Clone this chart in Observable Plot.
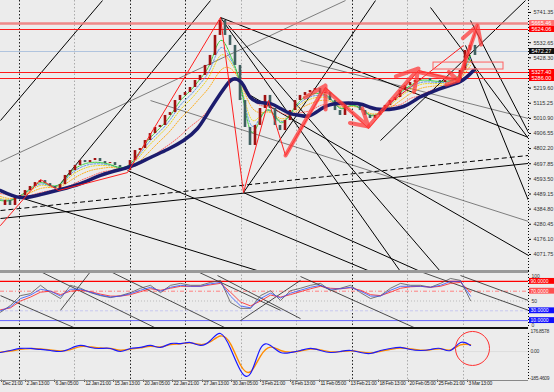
<!DOCTYPE html>
<html><head><meta charset="utf-8">
<script src="https://cdn.jsdelivr.net/npm/d3@7"></script>
<script src="https://cdn.jsdelivr.net/npm/@observablehq/plot@0.6"></script>
<style>
body{margin:0;background:#ececec;}
#c{position:relative;width:554px;height:392px;background:#ececec;overflow:hidden;font-family:"Liberation Sans",Arial,sans-serif;}
#c svg{position:absolute;left:0;}
.sep{position:absolute;left:0;width:528px;}
</style></head><body><div id="c"></div>
<script>
// ---------- data ----------
const priceTicks=[5741.35,5637.00,5532.65,5428.30,5323.95,5219.60,5115.25,5010.90,4906.55,4802.20,4697.85,4593.50,4489.15,4384.80,4280.45,4176.10,4071.75];
const timeLabels=["Dec 21:00","2 Jan 13:00","6 Jan 05:00","12 Jan 21:00","15 Jan 13:00","20 Jan 05:00","22 Jan 21:00","27 Jan 13:00","30 Jan 05:00","3 Feb 21:00","6 Feb 13:00","11 Feb 05:00","13 Feb 21:00","18 Feb 13:00","20 Feb 05:00","25 Feb 21:00","3 Mar 13:00"];
const timeLabelPos=[1,25,54,84,113,143,172,202,231,260,290,319,349,378,408,437,467];
const sepBlack=[19,130,185,352];
const sepGrey=[74,241,296,407,463];
// closes, one every 5 slots
const closes=[4410,4444,4410,4465,4479,4513,4541,4568,4582,4561,
 4541,4527,4554,4617,4651,4686,4720,4706,4720,4734,
 4713,4699,4706,4686,4672,4651,4720,4789,4803,4858,
 4906,4948,4962,5031,5051,5134,5169,5189,5224,5272,
 5307,5376,5445,5583,5686,5583,5514,5376,5134,4948,
 4824,4962,5079,5169,5079,4962,4927,4996,5065,5134,
 5169,5189,5203,5217,5182,5189,5134,5065,5031,5100,
 5120,5106,5065,5031,5010,5031,5065,5100,5134,5155,
 5203,5238,5258,5272,5286,5286,5272,5272,5258,5272,
 5272,5286,5341,5479,5514,5445];
// slow MA (navy)
const navyT=[0,20,40,60,80,100,120,133,150,167,183,197,207,220,230,237,243,250,260,270,280,290,300,310,323,337,357,370,383,403,417,430,443,460,473];
const navyP=[4513,4465,4485,4520,4561,4617,4658,4686,4741,4796,4858,4941,5044,5182,5272,5279,5238,5155,5120,5113,5079,5044,5031,5031,5086,5113,5113,5086,5072,5093,5148,5189,5224,5265,5341];
// ribbon MAs, one every 10 slots
const maGreen=[4444,4444,4479,4527,4568,4548,4561,4637,4686,4706,4706,4692,4672,4699,4789,4879,4948,5031,5134,5203,5286,5396,5548,5445,5238,4927,5010,5065,4982,5044,5134,5175,5182,5148,5079,5100,5079,5031,5051,5120,5189,5238,5272,5272,5265,5272,5320,5445];
const maBlue=[4450,4448,4477,4520,4558,4545,4556,4625,4672,4694,4697,4687,4670,4692,4772,4858,4925,5005,5103,5172,5253,5356,5497,5422,5243,4970,5020,5061,4989,5041,5120,5160,5170,5143,5082,5098,5079,5035,5051,5111,5176,5224,5258,5262,5258,5267,5311,5428];
const maYellow=[4458,4451,4475,4513,4548,4541,4551,4610,4655,4679,4686,4682,4668,4686,4755,4834,4903,4979,5072,5141,5220,5317,5445,5400,5248,5014,5031,5058,4996,5038,5106,5144,5158,5138,5086,5096,5079,5038,5051,5103,5162,5210,5244,5251,5251,5262,5303,5410];
const maOrange=[4472,4458,4472,4499,4527,4534,4541,4582,4623,4651,4665,4672,4665,4672,4720,4789,4858,4927,5010,5079,5155,5238,5341,5355,5258,5100,5051,5051,5010,5031,5079,5113,5134,5127,5093,5093,5079,5044,5051,5086,5134,5182,5217,5231,5238,5251,5286,5376];
const maRed=[4492,4479,4465,4479,4499,4513,4527,4548,4582,4610,4637,4651,4658,4672,4699,4741,4789,4837,4892,4955,5010,5086,5169,5258,5272,5169,5100,5093,5051,5037,5051,5065,5100,5106,5106,5106,5100,5079,5065,5093,5106,5148,5169,5203,5217,5238,5258,5327];
// zigzag
const zigT=[0,40,58,127,220,243,268,285,325,368,418,458,477];
const zigP=[4272,4589,4513,4637,5707,4499,5134,4755,5224,4941,5341,5272,5651];
// thick arrows (start/end)
const arrows=[[285,4755,325,5238],[325,5210,368,4955],[368,4955,418,5355],[420,5327,458,5272],[458,5272,477,5651]];
const redThin=[[380,5065,463,5514]];
const redBox=[433,5396,503,5348];
// horizontal levels
const redLevels=[5665.46,5624.06,5327.40,5286.00];
const lastPrice=5472.27;
// trend lines [t1,p1,t2,p2]
const trendSolid=[[0,4996,102,5824],[60,4561,210,5824],[220,5707,528,4879],[220,5707,400,3954],[243,4499,375,5824],[0,4320,528,4700],
  [470,5686,528,4913],[430,5776,528,4872],[380,4858,525,5824],[0,4506,260,3954],[127,4651,370,3954],[243,4499,420,3954],
  [228,5652,440,3954],[250,5169,528,4065],[465,5514,528,4444]];
const trendThin=[[300,5410,528,5010],[0,4713,345,5824],[150,5134,528,4300]];
const trendDashed=[[0,4375,528,4755]];
const oscLines=[[197,110,280,31],[217,102,300,14],[0,61,80,-10],[40,110,160,-10],[110,110,230,-10],[60,31,90,110],[240,10,300,92],[300,100,420,-10],[420,110,528,31],[460,102,528,51]];
// oscillator panel (every 10 slots)
const oscGrey=[27,41,61,65,82,67,55,82,76,67,61,57,61,67,76,82,67,82,86,82,82,88,92,47,35,35,61,71,51,71,76,82,86,71,76,82,67,55,61,76,86,82,82,78,86,96,92,51];
const oscBlue=[30,38,55,62,74,70,60,74,74,68,62,58,60,65,72,78,70,78,82,80,80,85,88,60,40,36,55,66,56,66,72,78,82,74,75,78,70,60,60,72,80,80,80,78,82,90,90,60];
const oscRed=[32,36,50,58,68,70,63,70,72,69,64,60,60,63,69,75,72,76,80,80,80,83,86,68,48,40,50,62,58,63,69,75,80,76,75,77,72,63,61,68,76,79,80,78,80,86,88,68];
const oscLevels=[90,70,50,30,10];
// MACD (every 10 slots) and histogram (every 5 slots)
const macdMain=[-8,10,28,28,19,10,1,28,55,37,28,28,1,28,37,55,37,72,72,81,55,99,162,28,-169,-196,28,55,-8,-8,10,28,10,-8,1,10,-8,-17,10,28,37,19,10,19,28,10,81,55];
const macdSignal=[-5,5,20,27,24,15,6,18,45,42,32,28,12,22,33,48,42,62,70,78,63,88,140,70,-120,-180,-40,40,10,-5,5,22,15,-3,0,8,-3,-12,3,20,32,24,13,17,25,15,60,62];
const macdHist=[10,15,12,8,5,10,15,10,5,-5,-10,-15,-10,5,15,20,15,8,-5,-10,-8,-5,5,10,8,-5,-10,5,10,8,12,10,-5,-8,10,15,12,8,10,12,-10,8,20,30,25,-30,-60,-100,-125,-110,60,110,125,100,70,30,-20,-30,-25,-15,5,10,15,8,-5,-10,-8,5,8,10,-5,-10,-8,-12,-10,5,10,15,12,8,5,8,-5,-8,5,10,8,-5,-8,5,8,15,30,45,20,-10];
const macdLabels=["176.8578","0.00","-185.4609"];

// ---------- helpers ----------
const c=document.getElementById("c");
const X={domain:[0,528],range:[0,528]};
const FONT='"Liberation Sans",Arial,sans-serif';
function mk(top,h,y,marks,extra={}){
  const s=Plot.plot({width:554,height:h,marginLeft:0,marginRight:26,marginTop:0,marginBottom:0,
    x:{...X,axis:null},y:{...y,axis:null},marks,
    style:{background:"transparent",overflow:"visible",fontFamily:FONT,fontSize:"5px",...extra}});
  s.style.top=top+"px";c.appendChild(s);return s;
}
const every=(arr,step)=>arr.map((v,i)=>({t:i*step,v}));
const candles=closes.slice(1).map((v,i)=>({t:(i+1)*5,o:closes[i],c:v}));
const navy=navyT.map((t,i)=>({t,v:navyP[i]}));
const zig=zigT.map((t,i)=>({t,v:zigP[i]}));
const seg=a=>a.map(d=>({x1:d[0],y1:d[1],x2:d[2],y2:d[3]}));
const sepLines=[...sepBlack.map(t=>({t,k:"b"})),...sepGrey.map(t=>({t,k:"g"}))];
const sepStroke=d=>d.k==="b"?"#222":"#aaa";

// ---------- main price panel ----------
const yMain={domain:[3954.46,5824.14],range:[271,0]};
const pxU=6.8992; // price units per pixel in the main panel
const boxH=3*pxU;
const boxed=[...redLevels,lastPrice];
const shownTicks=priceTicks.filter(t=>boxed.every(b=>Math.abs(b-t)>5*pxU));
const ma=(arr,stroke,dash)=>Plot.line(every(arr,10),{x:"t",y:"v",stroke,strokeWidth:0.9,strokeDasharray:dash,curve:"natural"});
mk(0,271,yMain,[
  Plot.ruleX(sepLines,{x:"t",stroke:sepStroke,strokeDasharray:"1.5,2",strokeWidth:1}),
  Plot.ruleY([lastPrice],{stroke:"#b0c4de",strokeWidth:1}),
  Plot.link(seg(trendThin),{x1:"x1",y1:"y1",x2:"x2",y2:"y2",stroke:"#333",strokeWidth:0.6,clip:true}),
  Plot.link(seg(trendSolid),{x1:"x1",y1:"y1",x2:"x2",y2:"y2",stroke:"#000",strokeWidth:1,clip:true}),
  Plot.link(seg(trendDashed),{x1:"x1",y1:"y1",x2:"x2",y2:"y2",stroke:"#000",strokeWidth:1,strokeDasharray:"5,3",clip:true}),
  Plot.ruleY([redLevels[0]],{stroke:"#f07070",strokeWidth:2.5,strokeOpacity:0.8}),
  Plot.ruleY(redLevels.slice(1),{stroke:"#ff1a1a",strokeWidth:1.2}),
  ma(maRed,"#ff5050","1,1.5"),
  ma(maOrange,"#ffa500","1,1.5"),
  ma(maYellow,"#e8d000","1,1.5"),
  ma(maBlue,"#4a90e2","2,1.5"),
  ma(maGreen,"#22cc22","2,1"),
  Plot.rect(candles,{x1:d=>d.t-1.3,x2:d=>d.t+1.3,y1:"o",y2:"c",fill:d=>d.c>=d.o?"#a01010":"#3f5f5f"}),
  Plot.line(navy,{x:"t",y:"v",stroke:"#1c1c6e",strokeWidth:3.5,curve:"natural"}),
  Plot.line(zig,{x:"t",y:"v",stroke:"#ff2020",strokeWidth:1,clip:true}),
  Plot.link(seg(redThin),{x1:"x1",y1:"y1",x2:"x2",y2:"y2",stroke:"#ff2020",strokeWidth:1}),
  Plot.rect([redBox],{x1:d=>d[0],y1:d=>d[1],x2:d=>d[2],y2:d=>d[3],fill:"none",stroke:"#ff6060",strokeWidth:1}),
  Plot.arrow(seg(arrows),{x1:"x1",y1:"y1",x2:"x2",y2:"y2",stroke:"#ff3b3b",strokeOpacity:0.75,strokeWidth:4,headLength:9}),
  Plot.ruleX([528],{stroke:"#000",strokeDasharray:"1,2"}),
  Plot.axisY({anchor:"right",ticks:shownTicks,tickFormat:d=>d.toFixed(2),tickSize:2,tickPadding:3,fontSize:5.5,fill:"#333"}),
  Plot.rect(redLevels,{x1:529,x2:554,y1:d=>d-boxH,y2:d=>d+boxH,fill:(d,i)=>i===0?"#ff7070":"#ff0000"}),
  Plot.text(redLevels,{x:531,y:d=>d,text:d=>d.toFixed(2),fill:"white",textAnchor:"start",fontSize:5.5}),
  Plot.rect([lastPrice],{x1:529,x2:554,y1:d=>d-boxH,y2:d=>d+boxH,fill:"#111"}),
  Plot.text([lastPrice],{x:531,y:d=>d,text:d=>d.toFixed(2),fill:"white",textAnchor:"start",fontSize:5.5})
]);

// ---------- oscillator panel ----------
const yOsc={domain:[0,100],range:[54,5]};
mk(271,57,yOsc,[
  Plot.ruleX(sepLines,{x:"t",stroke:sepStroke,strokeDasharray:"1.5,2"}),
  Plot.ruleY([oscLevels[0]],{stroke:"#ff0000",strokeWidth:1.2}),
  Plot.ruleY([oscLevels[1]],{stroke:"#ff8080",strokeDasharray:"4,2,1,2"}),
  Plot.ruleY([oscLevels[2]],{stroke:"#bbb",strokeDasharray:"1,2"}),
  Plot.ruleY([oscLevels[3]],{stroke:"#c8c8f0",strokeDasharray:"3,2"}),
  Plot.ruleY([oscLevels[4]],{stroke:"#6060ff",strokeWidth:1}),
  Plot.link(seg(oscLines),{x1:"x1",y1:"y1",x2:"x2",y2:"y2",stroke:"#222",strokeWidth:0.8,clip:true}),
  Plot.line(every(oscGrey,10),{x:"t",y:"v",stroke:"#555",strokeWidth:0.8}),
  Plot.line(every(oscRed,10),{x:"t",y:"v",stroke:"#ff2020",strokeWidth:0.8}),
  Plot.line(every(oscBlue,10),{x:"t",y:"v",stroke:"#3050ff",strokeWidth:0.8}),
  Plot.ruleX([528],{stroke:"#000",strokeDasharray:"1,2"}),
  Plot.text([100,50,0],{x:531,y:d=>d,text:d=>String(d),textAnchor:"start",fontSize:5,fill:"#333"}),
  Plot.rect([90,70],{x1:529,x2:554,y1:d=>d-6,y2:d=>d+6,fill:(d,i)=>i===0?"#ff0000":"#ff5050"}),
  Plot.rect([30,10],{x1:529,x2:554,y1:d=>d-6,y2:d=>d+6,fill:"#1010ff"}),
  Plot.text([90,70,30,10],{x:530,y:d=>d,text:d=>d.toFixed(4),fill:"white",textAnchor:"start",fontSize:5})
]);

// ---------- MACD panel + time axis ----------
const yMacd={domain:[-250,180],range:[50,2]};
const labelsT=timeLabels.map((s,i)=>({t:timeLabelPos[i],s}));
mk(329,63,yMacd,[
  Plot.ruleX(sepLines,{x:"t",y1:-250,y2:180,stroke:sepStroke,strokeDasharray:"1.5,2"}),
  Plot.ruleY([0],{stroke:"#ddd"}),
  Plot.ruleY(every(macdHist,5),{x:"t",y1:0,y2:"v",stroke:d=>d.v>=0?"#2090ff":"#ffa080",strokeWidth:1.6}),
  Plot.line(every(macdSignal,10),{x:"t",y:"v",stroke:"#ff8c00",strokeWidth:1.4,curve:"natural"}),
  Plot.line(every(macdMain,10),{x:"t",y:"v",stroke:"#1a1aff",strokeWidth:1.2,curve:"natural"}),
  Plot.dot([{t:472,v:28}],{x:"t",y:"v",r:17,stroke:"#ff3030",fill:"none",strokeWidth:1}),
  Plot.ruleX([528],{y1:-250,y2:180,stroke:"#000",strokeDasharray:"1,2"}),
  Plot.text([macdLabels[0]],{x:530,y:176.86,textAnchor:"start",fontSize:5,fill:"#333"}),
  Plot.text([macdLabels[1]],{x:530,y:0,textAnchor:"start",fontSize:5,fill:"#333"}),
  Plot.text([macdLabels[2]],{x:529,y:-240,textAnchor:"start",fontSize:5,fill:"#333"}),
  Plot.ruleX(labelsT,{x:"t",y1:-256,y2:-275,stroke:"#333"}),
  Plot.text(labelsT,{x:"t",y:-282,text:"s",textAnchor:"start",dx:1,fontSize:5,fill:"#222"})
],{letterSpacing:"-0.3px"});
// panel separators
for(const [top,h,col] of [[270,3,"#999"],[327,2,"#111"],[380,1,"#888"]]){
  const d=document.createElement("div");d.className="sep";d.style.top=top+"px";d.style.height=h+"px";d.style.background=col;c.appendChild(d);
}
</script></body></html>
